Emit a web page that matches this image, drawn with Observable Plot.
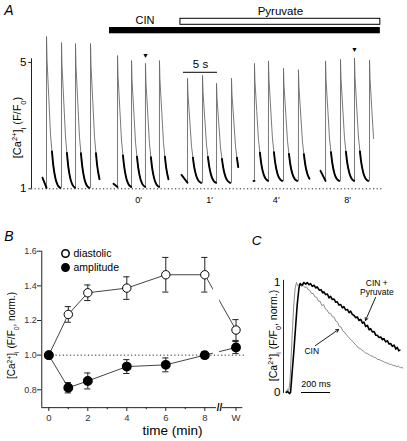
<!DOCTYPE html>
<html><head><meta charset="utf-8">
<script src="https://cdn.jsdelivr.net/npm/d3@7"></script>
<script src="https://cdn.jsdelivr.net/npm/@observablehq/plot@0.6"></script>
<style>
html,body{margin:0;padding:0;background:#fff;}
#fig{position:relative;width:407px;height:441px;overflow:hidden;}
#fig svg{position:absolute;left:0;top:0;}
</style></head><body><div id="fig"></div>
<script>
// ================= DATA =================
// ---- Panel A: Ca2+ transient recordings (display time in s, F/F0) ----
const segmentLabels = ["", "0'", "1'", "4'", "8'"];
const segmentStart = [1.62, 12.06, 22.06, 32.65, 42.5];
const segmentStartLevel = [1.35, 1.16, 1.44, 1.25, 1.57];
const segmentEnd = [10.0, 20.29, 30.44, 41.03, 50.49];
const segmentBase = [1.03, 1.06, 1.19, 1.25, 1.25];
const beatTimes = [
  [2.21, 4.41, 6.47, 8.68],
  [12.65, 14.71, 16.76, 18.82],
  [22.94, 25.15, 27.21, 29.41],
  [32.79, 34.85, 37.06, 39.26],
  [43.24, 45.44, 47.5, 49.71]
];
const beatPeaks = [
  [5.82, 5.63, 5.6, 5.6],
  [5.22, 5.06, 4.97, 5.06],
  [4.5, 4.59, 4.34, 4.5],
  [4.97, 5.05, 4.82, 4.77],
  [5.05, 5.1, 5.14, 5.08]
];
const decayTime = [0, 0.07, 0.34, 0.59, 0.8, 0.99, 1.32, 1.62, 2.0];
const decayFraction = [1, 0.85, 0.59, 0.35, 0.24, 0.15, 0.06, 0.02, 0];
const markedBeats = [[1, 2], [4, 2]];
const drugNames = ["CIN", "Pyruvate"];
const drugStart = [11.47, 21.9];
const drugEnd = [51.3, 51.3];
const ticksA = [1, 5];
const scaleBarA = 5; // s

// ---- Panel B: normalized diastolic [Ca2+]i and amplitude ----
const timeLabels = ["0", "1", "2", "4", "6", "8", "W"];
const diastolic = [1.0, 1.235, 1.36, 1.387, 1.464, 1.464, 1.145];
const diastolicErr = [0, 0.045, 0.045, 0.065, 0.1, 0.1, 0.06];
const amplitude = [1.0, 0.812, 0.851, 0.934, 0.944, 1.0, 1.044];
const amplitudeErr = [0, 0.03, 0.046, 0.04, 0.04, 0.02, 0.035];
const ticksBy = [0.8, 1.0, 1.2, 1.4, 1.6];
const ticksBx = ["0", "2", "4", "6", "8", "W"];
const minorBx = [1, 3, 5, 7];

// ---- Panel C: normalized transients (ms, normalized F/F0) ----
const cinTime = [0,10,18,26,35,44,53,62,71,80,92,104,116,128,140,150,162,174,186,198,210,222,234,246,258,270,282,294,306,318,330,342,354,366,378,390,402,414,426,438,450,462,474,486,498,510,522,534,546,558,570,582,594,606,618,630,642,654,666,678,690,702,714,726,738,750,762,774,786,798,806];
const cinValue = [0.01,0.03,0.02,0.1,0.35,0.6,0.81,0.95,1.0,0.97,0.985,0.965,0.975,0.955,0.96,0.935,0.93,0.9,0.9,0.87,0.865,0.83,0.83,0.79,0.8,0.76,0.75,0.72,0.72,0.69,0.685,0.65,0.64,0.6,0.595,0.56,0.55,0.525,0.51,0.49,0.475,0.46,0.44,0.425,0.405,0.4,0.385,0.375,0.36,0.355,0.345,0.335,0.33,0.32,0.315,0.3,0.3,0.29,0.285,0.275,0.27,0.265,0.255,0.255,0.245,0.245,0.235,0.24,0.225,0.23,0.22];
const pyrTime = [0,10,22,30,42,53,65,76,88,96,110,122,135,145,158,168,180,192,205,214,228,240,252,260,272,284,296,306,318,330,342,352,364,376,388,398,410,422,434,444,456,468,480,490,502,514,526,536,548,560,572,582,594,606,618,628,640,652,664,674,686,698,710,720,732,744,756,766,776,784];
const pyrValue = [0,0.01,-0.01,0,0.2,0.38,0.6,0.8,0.95,0.99,0.975,1.0,0.985,1.0,0.98,0.99,0.965,0.975,0.95,0.96,0.93,0.935,0.905,0.915,0.89,0.895,0.86,0.875,0.845,0.85,0.82,0.825,0.795,0.8,0.77,0.78,0.75,0.755,0.725,0.74,0.71,0.7,0.68,0.688,0.655,0.665,0.63,0.64,0.6,0.61,0.57,0.58,0.55,0.555,0.52,0.52,0.5,0.505,0.48,0.49,0.46,0.47,0.44,0.445,0.42,0.43,0.395,0.41,0.38,0.385];
const ticksC = [0, 1];
const scaleBarC = 200; // ms

// ================= LAYOUT / STYLE =================
const W = 407, H = 441;
const FONT = '"Liberation Sans", Arial, Helvetica, sans-serif';
const baseStyle = {background: "transparent", fontFamily: FONT, fontSize: "10px", overflow: "visible", color: "#000"};
const fig = document.getElementById("fig");
const MID = {textAnchor: "middle", lineAnchor: "middle"};

const sup = s => `<tspan baseline-shift="super" font-size="68%">${s}</tspan>`;
const sub = s => `<tspan baseline-shift="sub" font-size="68%">${s}</tspan>`;
function richLabels(svg) {
  svg.querySelectorAll("text").forEach(t => {
    const s = t.textContent;
    if (s === "[Ca2+]i (F/F0)") t.innerHTML = `[Ca${sup("2+")}]${sub("i")} (F/F${sub("0")})`;
    else if (s === "[Ca2+]i (F/F0, norm.)") t.innerHTML = `[Ca${sup("2+")}]${sub("i")} (F/F${sub("0")}, norm.)`;
  });
}

// ---------- Panel A ----------
const tracePts = [], tailPts = [];
segmentStart.forEach((s, g) => {
  const b = segmentBase[g], times = beatTimes[g];
  tracePts.push({t: s, v: segmentStartLevel[g], g});
  tailPts.push({t: s, v: segmentStartLevel[g], z: g + "s"});
  tailPts.push({t: times[0], v: b, z: g + "s"});
  times.forEach((tb, i) => {
    const next = i < times.length - 1 ? times[i + 1] : segmentEnd[g];
    const amp = beatPeaks[g][i] - b;
    tracePts.push({t: tb, v: b, g});
    decayTime.forEach((dt, k) => {
      if (tb + dt <= next + 0.001) {
        const p = {t: tb + dt, v: b + amp * decayFraction[k], g};
        tracePts.push(p);
        if (decayFraction[k] <= 0.25) tailPts.push({t: p.t, v: p.v, z: g + "-" + i});
      }
    });
  });
});
const segMid = beatTimes.map(ts => d3.mean(ts));
const axisEndA = d3.max(drugEnd) + 0.5;
const barX0 = 22.35; // scale bar start (layout)

const plotA = Plot.plot({
  width: W, height: H, margin: 0, style: baseStyle,
  x: {domain: [0, 10], range: [31, 99], axis: null},
  y: {domain: [1, 5], range: [188.3, 62], axis: null},
  marks: [
    Plot.ruleY([1], {x1: 0, x2: axisEndA, stroke: "#222", strokeDasharray: "1.2 2.4", strokeWidth: 1}),
    Plot.ruleX([0], {y1: 1, y2: 5.12, stroke: "#222", strokeWidth: 1}),
    Plot.ruleY(ticksA, {y: d => d, x1: -0.4, x2: 0, stroke: "#222"}),
    Plot.text(ticksA, {x: 0, y: d => d, dx: -5, textAnchor: "end", fontSize: 11.5, text: d => String(d)}),
    Plot.line(tracePts, {x: "t", y: "v", z: "g", stroke: "#6a6a6a", strokeWidth: 0.9}),
    Plot.line(tailPts, {x: "t", y: "v", z: "z", stroke: "#000", strokeWidth: 1.9, curve: "monotone-x"}),
    Plot.text(markedBeats, {x: d => beatTimes[d[0]][d[1]], y: d => beatPeaks[d[0]][d[1]], dy: -8, text: () => "▼", fontSize: 7}),
    Plot.rect([0], {x1: d => drugStart[d], x2: d => drugEnd[d], insetTop: 27, insetBottom: H - 33.3, fill: "#000"}),
    Plot.rect([1], {x1: d => drugStart[d], x2: d => drugEnd[d], insetTop: 18.3, insetBottom: H - 24.3, fill: "#fff", stroke: "#000", strokeWidth: 1}),
    Plot.text([0], {x: d => (drugStart[0] + drugStart[1]) / 2, frameAnchor: "top", dy: 20, ...MID, text: d => drugNames[0], fontSize: 11}),
    Plot.text([1], {x: d => (drugStart[1] + drugEnd[1]) / 2, frameAnchor: "top", dy: 10.5, ...MID, text: d => drugNames[1], fontSize: 11.5}),
    Plot.ruleY([4.69], {x1: barX0, x2: barX0 + scaleBarA, stroke: "#000", strokeWidth: 1}),
    Plot.text([4.69], {x: barX0 + scaleBarA / 2, y: d => d, dy: -8, text: () => `${scaleBarA} s`, fontSize: 11.5}),
    Plot.text(segmentLabels.map((l, i) => i).filter(i => segmentLabels[i]), {x: i => segMid[i], frameAnchor: "top", dy: 200, ...MID, text: i => segmentLabels[i], fontSize: 9}),
    Plot.text(["[Ca2+]i (F/F0)"], {frameAnchor: "top-left", dx: 17, dy: 127, ...MID, rotate: -90, fontSize: 11}),
    Plot.text(["A"], {frameAnchor: "top-left", dx: 8.5, dy: 10, ...MID, fontSize: 14, fontStyle: "italic"})
  ]
});

// ---------- Panel B ----------
const wPos = 9.6, xBreak = 8.72, yAxisXB = -0.36, yBottomB = 0.697, xEndB = 9.95;
const xOf = l => l === "W" ? wPos : +l;
const rowsB = timeLabels.map((l, i) => ({x: xOf(l), dia: diastolic[i], diaE: diastolicErr[i], amp: amplitude[i], ampE: amplitudeErr[i]}));
const mainB = rowsB.slice(0, 6), lastB = rowsB.slice(5);
const errB = rowsB.filter(d => d.diaE > 0);

const plotB = Plot.plot({
  width: W, height: H, margin: 0, style: baseStyle,
  x: {domain: [0, 8], range: [48.3, 204.3], axis: null},
  y: {domain: [0.8, 1.6], range: [389.3, 250.7], axis: null},
  marks: [
    // axes
    Plot.ruleX([yAxisXB], {y1: yBottomB, y2: 1.6, stroke: "#222"}),
    Plot.ruleY([yBottomB], {x1: yAxisXB, x2: xBreak - 0.12, stroke: "#222"}),
    Plot.ruleY([yBottomB], {x1: xBreak + 0.18, x2: xEndB, stroke: "#222"}),
    Plot.text(["//"], {x: xBreak + 0.03, y: yBottomB, fontSize: 10, fontWeight: "bold"}),
    Plot.ruleY(ticksBy, {y: d => d, x1: yAxisXB - 0.22, x2: yAxisXB, stroke: "#222"}),
    Plot.text(ticksBy, {x: yAxisXB, y: d => d, dx: -5, textAnchor: "end", fontSize: 9, fill: "#333", text: d => d.toFixed(1)}),
    Plot.ruleX(ticksBx, {x: xOf, y1: yBottomB - 0.022, y2: yBottomB, stroke: "#222"}),
    Plot.ruleX(minorBx, {x: d => d, y1: yBottomB - 0.012, y2: yBottomB, stroke: "#222"}),
    Plot.text(ticksBx, {x: xOf, y: yBottomB, dy: 10, fontSize: 9.5, fill: "#333", text: d => d}),
    // connecting lines
    Plot.line(mainB, {x: "x", y: "dia", stroke: "#444", strokeWidth: 1}),
    Plot.line(mainB, {x: "x", y: "amp", stroke: "#444", strokeWidth: 1}),
    Plot.line(lastB, {x: "x", y: "dia", stroke: "#444", strokeWidth: 1}),
    Plot.line(lastB, {x: "x", y: "amp", stroke: "#444", strokeWidth: 1}),
    Plot.rect([xBreak], {x1: d => d - 0.28, x2: d => d + 0.04, y1: 1.004, y2: 1.5, fill: "#fff"}),
    Plot.ruleY([1], {x1: 0, x2: xEndB + 0.2, stroke: "#222", strokeDasharray: "1.2 2.4"}),
    // error bars
    Plot.ruleX(errB, {x: "x", y1: d => d.dia - d.diaE, y2: d => d.dia + d.diaE, stroke: "#222"}),
    Plot.ruleY(errB, {y: d => d.dia + d.diaE, x1: d => d.x - 0.16, x2: d => d.x + 0.16, stroke: "#222"}),
    Plot.ruleY(errB, {y: d => d.dia - d.diaE, x1: d => d.x - 0.16, x2: d => d.x + 0.16, stroke: "#222"}),
    Plot.ruleX(errB, {x: "x", y1: d => d.amp - d.ampE, y2: d => d.amp + d.ampE, stroke: "#222"}),
    Plot.ruleY(errB, {y: d => d.amp + d.ampE, x1: d => d.x - 0.16, x2: d => d.x + 0.16, stroke: "#222"}),
    Plot.ruleY(errB, {y: d => d.amp - d.ampE, x1: d => d.x - 0.16, x2: d => d.x + 0.16, stroke: "#222"}),
    // points
    Plot.dot(rowsB, {x: "x", y: "dia", r: 4.2, fill: "#fff", stroke: "#000", strokeWidth: 1}),
    Plot.dot(rowsB, {x: "x", y: "amp", r: 4.2, fill: "#000", stroke: "#000"}),
    // legend
    Plot.dot(["diastolic"], {frameAnchor: "top-left", dx: 65, dy: 253, r: 3.7, fill: "#fff", stroke: "#000"}),
    Plot.dot(["amplitude"], {frameAnchor: "top-left", dx: 65, dy: 267, r: 3.7, fill: "#000", stroke: "#000"}),
    Plot.text(["diastolic"], {frameAnchor: "top-left", dx: 73, dy: 253, textAnchor: "start", lineAnchor: "middle", fontSize: 10.5, text: d => d}),
    Plot.text(["amplitude"], {frameAnchor: "top-left", dx: 73, dy: 267, textAnchor: "start", lineAnchor: "middle", fontSize: 10.5, text: d => d}),
    // titles
    Plot.text(["time (min)"], {frameAnchor: "top-left", dx: 172, dy: 430, ...MID, fontSize: 13.5, text: d => d}),
    Plot.text(["[Ca2+]i (F/F0, norm.)"], {frameAnchor: "top-left", dx: 11.5, dy: 335, ...MID, rotate: -90, fontSize: 10}),
    Plot.text(["B"], {frameAnchor: "top-left", dx: 8.5, dy: 236, ...MID, fontSize: 14, fontStyle: "italic"})
  ]
});

// ---------- Panel C ----------
const cin = cinTime.map((t, i) => ({t, v: cinValue[i]}));
const pyr = pyrTime.map((t, i) => ({t, v: pyrValue[i]}));
const yAxisXC = -18.6, barC0 = 105.5;
const annotC = [
  {text: "CIN +\nPyruvate", x: 625, y: 0.95, x1: 616, y1: 0.864, x2: 547, y2: 0.655},
  {text: "CIN", x: 176, y: 0.373, x1: 202, y1: 0.427, x2: 361, y2: 0.573}
];

const plotC = Plot.plot({
  width: W, height: H, margin: 0, style: baseStyle,
  x: {domain: [0, 200], range: [285.7, 314.7], axis: null},
  y: {domain: [0, 1], range: [392, 282], axis: null},
  marks: [
    Plot.ruleX([yAxisXC], {y1: -0.01, y2: 1.02, stroke: "#222"}),
    Plot.text(ticksC, {x: yAxisXC, y: d => d, dx: -3, textAnchor: "end", fontSize: 11.5, text: d => String(d)}),
    Plot.line(cin, {x: "t", y: "v", stroke: "#8a8a8a", strokeWidth: 1}),
    Plot.line(pyr, {x: "t", y: "v", stroke: "#000", strokeWidth: 1.6}),
    Plot.arrow(annotC, {x1: "x1", y1: "y1", x2: "x2", y2: "y2", stroke: "#000", strokeWidth: 0.9, headLength: 5}),
    Plot.text(annotC, {x: "x", y: "y", text: "text", fontSize: 8.5, lineHeight: 1.0}),
    Plot.ruleY([0], {x1: barC0, x2: barC0 + scaleBarC, stroke: "#000", strokeWidth: 1}),
    Plot.text([0], {x: barC0 + scaleBarC / 2, y: d => d, dy: -8, text: () => `${scaleBarC} ms`, fontSize: 9}),
    Plot.text(["[Ca2+]i (F/F0, norm.)"], {frameAnchor: "top-left", dx: 273, dy: 335, ...MID, rotate: -90, fontSize: 10.5}),
    Plot.text(["C"], {frameAnchor: "top-left", dx: 256, dy: 240, ...MID, fontSize: 13.5, fontStyle: "italic"})
  ]
});

[plotA, plotB, plotC].forEach(p => { richLabels(p); fig.appendChild(p); });
</script>
</body></html>
